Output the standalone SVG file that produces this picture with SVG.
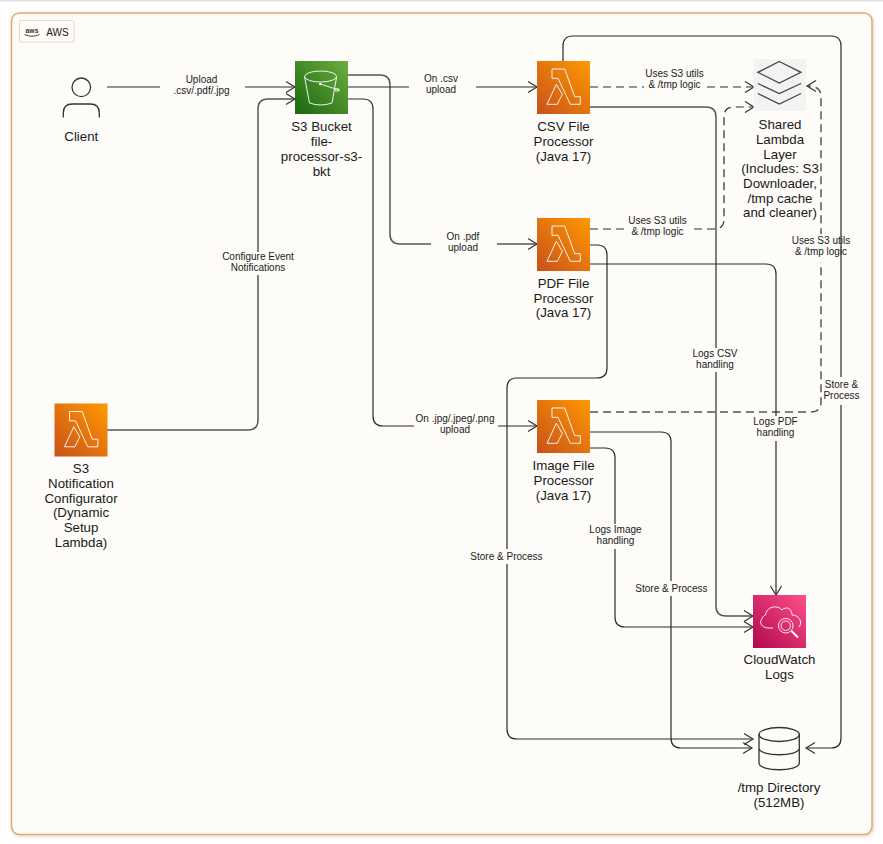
<svg xmlns="http://www.w3.org/2000/svg" width="883" height="844" viewBox="0 0 883 844">
<style>
text{font-family:"Liberation Sans",Arial,sans-serif;fill:#1a1a1a;text-anchor:middle}
.n{font-size:13.3px}
.l{font-size:10px}
.e{fill:none;stroke:#2a2a2a;stroke-width:1.2;marker-end:url(#oa)}
.g{stroke:#555;stroke-width:1.5}
.d{stroke-dasharray:8 5}
.b{fill:#fdfcf8;stroke:none}
.w{fill:none;stroke:#fff;stroke-width:1;opacity:.9}
</style>
<defs>
<marker id="oa" markerUnits="userSpaceOnUse" markerWidth="14" markerHeight="14" refX="10" refY="7" orient="auto"><path d="M1,1.500 L10,7 L1,12.500" fill="none" stroke="#333" stroke-width="1.200"/></marker>
<linearGradient id="gl" x1="0" y1="1" x2="1" y2="0"><stop offset="0" stop-color="#c8511b"/><stop offset="1" stop-color="#ff9900"/></linearGradient>
<linearGradient id="gs" x1="0" y1="1" x2="1" y2="0"><stop offset="0" stop-color="#1b660f"/><stop offset="1" stop-color="#6cae3e"/></linearGradient>
<linearGradient id="gc" x1="0" y1="1" x2="1" y2="0"><stop offset="0" stop-color="#b0084d"/><stop offset="1" stop-color="#ff4f8b"/></linearGradient>
<filter id="sh" x="-2%" y="-2%" width="104%" height="104%"><feDropShadow dx="1" dy="1" stdDeviation="1.500" flood-color="#000" flood-opacity=".18"/></filter>
<g id="lam">
<rect width="53" height="53" fill="url(#gl)"/>
<path class="w" d="M15,8 H27.700 L37.700,35.700 H43.300 V43.300 H33.300 L21,17.300 H15 Z"/>
<path class="w" d="M19.300,23.300 L10,43.300 H20.300 L25.300,33.300 Z"/>
</g>
</defs>
<rect width="883" height="844" fill="#fff"/>
<rect width="883" height="1.500" fill="#dfe0e4"/>
<g id="container">
<rect x="11.500" y="13" width="860.500" height="821.500" rx="8" fill="#fdfcf8" stroke="#e2ab66" stroke-width="1.500" filter="url(#sh)"/>
<rect x="19.500" y="20.500" width="54.500" height="21.500" rx="2" fill="#fdfcf8" stroke="#f0dcc0" stroke-width="1.200"/>
<text x="32" y="32.500" style="font-size:6.800px;font-weight:bold;fill:#333">aws</text>
<path d="M24.500,34.500 Q32,38 39.500,34.500" fill="none" stroke="#444" stroke-width="1"/>
<text x="57.500" y="36" style="font-size:10px">AWS</text>
</g>
<g id="connectors">
<path class="e" d="M107,87 H295"/>
<rect class="b" x="160" y="73" width="85" height="24"/>
<text class="l" x="201.500" y="83">Upload</text><text class="l" x="201.500" y="94">.csv/.pdf/.jpg</text>

<path class="e g" d="M106,430 H248 Q258,430 258,420 V109 Q258,99 268,99 H295"/>
<rect class="b" x="222" y="252" width="72" height="23"/>
<text class="l" x="258" y="260">Configure Event</text><text class="l" x="258" y="271">Notifications</text>

<path class="e g" d="M348,75 H380 Q390,75 390,85 V234 Q390,244 400,244 H537"/>
<rect class="b" x="431" y="231" width="66" height="24"/>
<text class="l" x="463" y="240">On .pdf</text><text class="l" x="463" y="251">upload</text>

<path class="e" d="M348,87 H537"/>
<rect class="b" x="409" y="73" width="67" height="25"/>
<text class="l" x="441" y="82">On .csv</text><text class="l" x="441" y="93">upload</text>

<path class="e" d="M348,99 H363 Q373,99 373,109 V416 Q373,426 383,426 H537"/>
<rect class="b" x="414" y="413" width="84" height="24"/>
<text class="l" x="455" y="422">On .jpg/.jpeg/.png</text><text class="l" x="455" y="433">upload</text>

<path class="e d" d="M590,87 H754"/>
<rect class="b" x="644" y="68" width="60" height="24"/>
<text class="l" x="674.500" y="77">Uses S3 utils</text><text class="l" x="674.500" y="88">&amp; /tmp logic</text>

<path class="e d" d="M590,229 H714 Q724,229 724,219 V117 Q724,107 734,107 H754"/>
<rect class="b" x="627" y="215" width="62" height="24"/>
<text class="l" x="657.500" y="224">Uses S3 utils</text><text class="l" x="657.500" y="235">&amp; /tmp logic</text>

<path class="e d g" d="M590,412 H811 Q821,412 821,402 V96 Q821,86 807,86"/>
<rect class="b" x="792" y="234" width="59" height="28"/>
<text class="l" x="821" y="244">Uses S3 utils</text><text class="l" x="821" y="255">&amp; /tmp logic</text>

<path class="e g" d="M590,107 H706 Q716,107 716,117 V606 Q716,616 726,616 H753"/>
<rect class="b" x="692" y="348" width="47" height="24"/>
<text class="l" x="715" y="357">Logs CSV</text><text class="l" x="715" y="368">handling</text>

<path class="e" d="M590,264 H766 Q776,264 776,274 V595"/>
<rect class="b" x="752" y="416" width="47" height="25"/>
<text class="l" x="775.500" y="425">Logs PDF</text><text class="l" x="775.500" y="436">handling</text>

<path class="e" d="M590,448 H605 Q615,448 615,458 V617 Q615,627 625,627 H753"/>
<rect class="b" x="589" y="524" width="52" height="25"/>
<text class="l" x="615.500" y="533">Logs Image</text><text class="l" x="615.500" y="544">handling</text>

<path class="e" d="M563,61 V46 Q563,36 573,36 H831 Q841,36 841,46 V738 Q841,748 831,748 H806"/>
<rect class="b" x="823" y="377" width="37" height="28"/>
<text class="l" x="841.500" y="388">Store &amp;</text><text class="l" x="841.500" y="399">Process</text>

<path class="e" d="M590,245 H597 Q607,245 607,255 V368 Q607,378 597,378 H517 Q507,378 507,388 V729 Q507,739 517,739 H753"/>
<rect class="b" x="470" y="549" width="73" height="15"/>
<text class="l" x="506.500" y="560">Store &amp; Process</text>

<path class="e" d="M590,432 H661 Q671,432 671,442 V738 Q671,748 681,748 H752"/>
<rect class="b" x="635" y="581" width="73" height="15"/>
<text class="l" x="671.500" y="592">Store &amp; Process</text>
</g>
<g id="client">
<circle cx="81.300" cy="87.300" r="9.300" fill="none" stroke="#333" stroke-width="1.300"/>
<path d="M63.300,117.500 V113 Q63.300,104 72.300,104 H90.300 Q99.300,104 99.300,113 V117.500" fill="none" stroke="#333" stroke-width="1.300"/>
<text class="n" x="81.300" y="140.700">Client</text>
</g>
<g id="s3-bucket">
<rect x="295" y="61" width="53" height="53" fill="url(#gs)"/>
<g transform="translate(295,61)">
<ellipse cx="25.600" cy="15.500" rx="16" ry="5.500" class="w"/>
<path class="w" d="M9.600,16 L14.500,42 Q25.600,46 37,42 L41.600,16"/>
<path class="w" d="M25.300,23 L44,29"/>
<ellipse cx="42" cy="29" rx="2.500" ry="1.200" class="w"/>
<circle cx="25.300" cy="23" r="1.300" fill="#fff"/>
</g>
<text class="n" x="321.500" y="131">S3 Bucket</text><text class="n" x="321.500" y="146">file-</text><text class="n" x="321.500" y="161">processor-s3-</text><text class="n" x="321.500" y="175.500">bkt</text>
</g>
<g id="csv-processor">
<use href="#lam" x="537" y="61"/>
<text class="n" x="563.500" y="131">CSV File</text><text class="n" x="563.500" y="146">Processor</text><text class="n" x="563.500" y="160.700">(Java 17)</text>
</g>
<g id="pdf-processor">
<use href="#lam" x="537" y="218"/>
<text class="n" x="563.500" y="287.700">PDF File</text><text class="n" x="563.500" y="302.500">Processor</text><text class="n" x="563.500" y="317">(Java 17)</text>
</g>
<g id="image-processor">
<use href="#lam" x="537" y="400"/>
<text class="n" x="563.500" y="470">Image File</text><text class="n" x="563.500" y="485">Processor</text><text class="n" x="563.500" y="499.500">(Java 17)</text>
</g>
<g id="configurator">
<use href="#lam" x="54.500" y="403.500"/>
<text class="n" x="81" y="473">S3</text><text class="n" x="81" y="488">Notification</text><text class="n" x="81" y="502.500">Configurator</text><text class="n" x="81" y="517">(Dynamic</text><text class="n" x="81" y="532">Setup</text><text class="n" x="81" y="547">Lambda)</text>
</g>
<g id="shared-layer">
<rect x="753.500" y="59" width="52.500" height="52" fill="#f3f3f4"/>
<path d="M779.300,61.500 L801,72.300 L779.300,83 L757.800,72.300 Z M757.800,83.500 L779.300,93.500 L801,83.500 M757.800,93.500 L779.300,104 L801,93.500" fill="none" stroke="#444" stroke-width="1.300"/>
<text class="n" x="780" y="129">Shared</text><text class="n" x="780" y="144">Lambda</text><text class="n" x="780" y="158.500">Layer</text><text class="n" x="780" y="173">(Includes: S3</text><text class="n" x="780" y="188">Downloader,</text><text class="n" x="780" y="202.500">/tmp cache</text><text class="n" x="780" y="217">and cleaner)</text>
</g>
<g id="cloudwatch">
<rect x="753" y="595" width="53" height="53" fill="url(#gc)"/>
<g transform="translate(753,595)">
<path class="w" d="M20,33 H16 C8,33 6,27 9,23.500 C10,21 12,20 12.500,20 C13,12 24,9 29,15 C33,11 39,13 39,20 C46,20 50,27 46,32"/>
<circle class="w" cx="32.700" cy="30.700" r="7.300"/><circle class="w" cx="32.700" cy="30.700" r="4.700"/>
<path d="M38.500,36 L45,42.500" fill="none" stroke="#fff" stroke-width="2"/>
</g>
<text class="n" x="779.500" y="664">CloudWatch</text><text class="n" x="779.500" y="679">Logs</text>
</g>
<g id="tmp-directory">
<path d="M759,734 V763 C759,772 799.300,772 799.300,763 V734 M759,748 C759,757 799.300,757 799.300,748" fill="none" stroke="#333" stroke-width="1.300"/>
<ellipse cx="779.200" cy="734.500" rx="20.200" ry="7" fill="none" stroke="#333" stroke-width="1.300"/>
<text class="n" x="779" y="791.700">/tmp Directory</text><text class="n" x="779" y="806.700">(512MB)</text>
</g>
</svg>
